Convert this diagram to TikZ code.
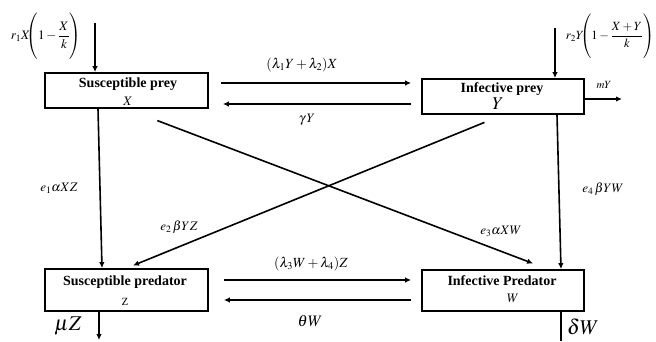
\documentclass[tikz,border=0pt]{standalone}
\usepackage{mathptmx}
\usepackage{fontspec}
\setmainfont{Liberation Serif}
\usetikzlibrary{arrows.meta}

\newcommand{\tallstrut}{\vrule height 21pt depth 19pt width 0pt}

\tikzset{
  box/.style={draw, line width=1.7pt, minimum width=163pt, inner sep=0pt},
  title/.style={font=\fontsize{14}{15}\selectfont\bfseries, inner sep=0pt},
  var/.style={font=\fontsize{13}{14}\selectfont, inner sep=0pt},
  lab/.style={font=\fontsize{13}{15}\selectfont, inner sep=0pt},
  flow/.style={line width=1.6pt, -{Latex[length=6pt,width=5.5pt]}},
  plain/.style={line width=1.6pt}
}

\begin{document}
\begin{tikzpicture}[x=1pt,y=-1pt]
\useasboundingbox (0,0) rectangle (656,341);

% compartments
\node[box, minimum height=35pt] (SP) at (126.5,90.5) {};
\node[box, minimum width=162pt, minimum height=35pt] (IP) at (503,96.5) {};
\node[box, minimum height=42pt] (SD) at (126.5,290) {};
\node[box, minimum width=162pt, minimum height=41pt] (ID) at (503,290.5) {};

\node[title] (SPt) at (128,84) {Susceptible prey};
\node[var] (SPv) at (128,101) {$X$};
\node[title] (IPt) at (502,89) {Infective prey};
\node[var, font=\fontsize{18}{19}\selectfont] (IPv) at (498,104) {$Y$};
\node[title] (SDt) at (125,282) {Susceptible predator};
\node[var, font=\fontsize{11}{12}\selectfont] (SDv) at (125,302) {Z};
\node[title] (IDt) at (502,281) {Infective Predator};
\node[var] (IDv) at (513,298) {$W$};

% recruitment inflows
\coordinate (inX) at (95,23);
\coordinate (inY) at (555,28);
\draw[flow] (inX) -- (SP.north -| inX);
\draw[flow] (inY) -- (IP.north -| inY);
\node[lab] (rX) at (46,36) {$\displaystyle r_1X\mskip-5mu{\left(\tallstrut 1-\frac{X}{k}\right)}$};
\node[lab, font=\fontsize{12.5}{14}\selectfont] (rY) at (610,36) {$\displaystyle r_2Y\mskip-5mu{\left(\tallstrut 1-\frac{X+Y}{k}\right)}$};

% infection and recovery between the prey classes
\draw[flow, shorten <=12pt, shorten >=10pt] (SP.east |- 0,83) -- (IP.west |- 0,83);
\draw[flow, shorten <=10pt, shorten >=14pt] (IP.west |- 0,104) -- (SP.east |- 0,104);
\node[lab, font=\fontsize{14}{16}\selectfont] (l12) at (302,65) {$(\lambda_1Y+\lambda_2)X$};
\node[lab] (gY) at (307,120) {$\gamma\,Y$};

% prey death
\coordinate (mYend) at (622,99);
\draw[flow] (IP.east |- mYend) -- (mYend);
\node[lab, font=\fontsize{11}{12}\selectfont] (mY) at (604,85) {$mY$};

% predation
\draw[flow] (SP.south -| 98,0) -- (SD.north -| 102,0);
\draw[flow] (IP.south -| 557,0) -- (ID.north -| 561,0);
\draw[flow, shorten <=33pt, shorten >=16pt] (SP.south) -- ([xshift=45pt]ID.north);
\draw[flow, shorten <=20pt, shorten >=7pt] (IP.south) -- (SD.north);
\node[lab] (e1) at (59,188) {$e_1\alpha XZ$};
\node[lab] (e2) at (179,227) {$e_2\,\beta YZ$};
\node[lab] (e3) at (501,231) {$e_3\alpha XW$};
\node[lab] (e4) at (603,189) {$e_4\,\beta YW$};

% infection and recovery between the predator classes
\draw[flow, shorten <=15pt, shorten >=10pt] (SD.east |- 0,280) -- (ID.west |- 0,280);
\draw[flow, shorten <=10pt, shorten >=15pt] (ID.west |- 0,300) -- (SD.east |- 0,300);
\node[lab, font=\fontsize{14}{16}\selectfont] (l34) at (311,264) {$(\lambda_3W+\lambda_4)Z$};
\node[lab, font=\fontsize{16}{18}\selectfont] (tW) at (310,321) {$\theta W$};

% predator deaths
\coordinate (muEnd) at (99,340);
\coordinate (dEnd) at (561,341);
\draw[flow] (SD.south -| muEnd) -- (muEnd);
\draw[plain] (ID.south -| dEnd) -- (dEnd);
\node[lab, font=\fontsize{21}{23}\selectfont] (muZ) at (68,326) {$\mu Z$};
\node[lab, font=\fontsize{21}{23}\selectfont] (dW) at (583,327) {$\delta W$};
\end{tikzpicture}
\end{document}
